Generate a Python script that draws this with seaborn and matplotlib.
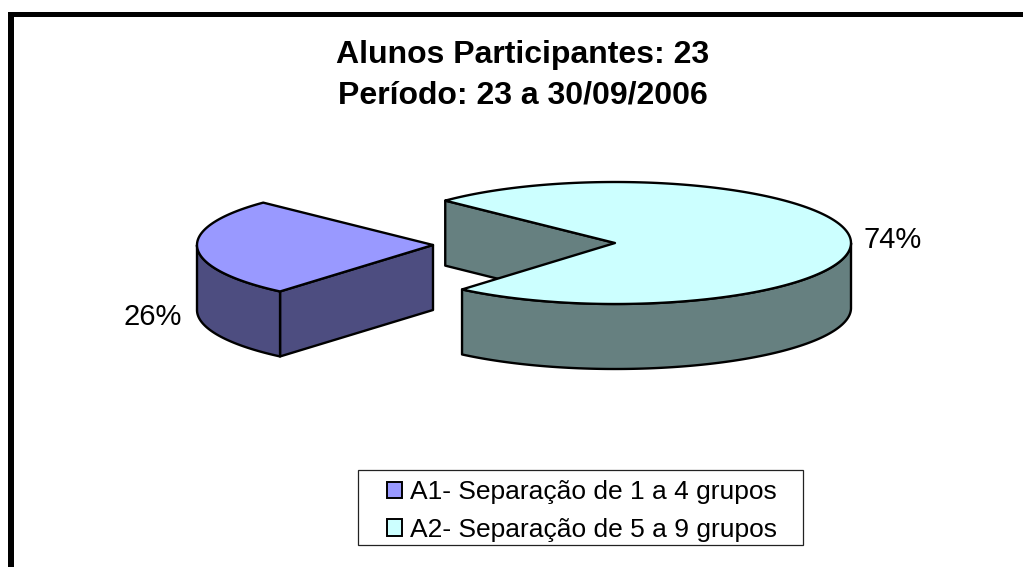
import numpy as np
import seaborn as sns
import matplotlib
matplotlib.use("Agg")
import matplotlib.pyplot as plt
from matplotlib.patches import Patch, Rectangle

title_lines = ["Alunos Participantes: 23", "Período: 23 a 30/09/2006"]
labels = ["A1- Separação de 1 a 4 grupos", "A2- Separação de 5 a 9 grupos"]
values = [26, 74]
top_colors = ["#9999FF", "#CCFFFF"]
wall_colors = ["#4D4D80", "#668080"]

START = 136.0
RX, RY, DEPTH = 236, 61, 65
LW = 1.7

sns.set_theme(style="white")
plt.rcParams["font.family"] = ["Liberation Sans", "DejaVu Sans"]


def arc(cx, cy, t0, t1, dy=0):
    t = np.radians(np.linspace(t0, t1, 200))
    return cx + RX * np.cos(t), cy - RY * np.sin(t) + dy


def face(ax, xs, ys, color):
    ax.fill(xs, ys, facecolor=color, edgecolor="black", lw=LW, joinstyle="round")


def extrude(ax, xs, ys, color):
    # a curve on the top surface, pushed down by the slice depth
    xs, ys = np.asarray(xs, float), np.asarray(ys, float)
    face(ax, np.r_[xs, xs[::-1]], np.r_[ys, ys[::-1] + DEPTH], color)


fig, ax = plt.subplots(figsize=(10.23, 5.67), dpi=100)
fig.subplots_adjust(0, 0, 1, 1)
ax.set_xlim(0, 1023)
ax.set_ylim(567, 0)
ax.axis("off")

# outer frame, open at right and bottom
ax.add_patch(Rectangle((8, 12), 5.5, 555, fc="black", ec="none"))
ax.add_patch(Rectangle((8, 12), 1015, 5.2, fc="black", ec="none"))

sweep = [v / sum(values) * 360 for v in values]

# A1 slice
cx, cy = 433, 245
t0, t1 = START, START + sweep[0]
ex, ey = arc(cx, cy, t1, t1)
extrude(ax, [ex[0], cx], [ey[0], cy], wall_colors[0])
x, y = arc(cx, cy, 180, t1)
extrude(ax, x, y, wall_colors[0])
x, y = arc(cx, cy, t0, t1)
face(ax, np.r_[cx, x], np.r_[cy, y], top_colors[0])

# A2 slice
cx, cy = 615, 243
t0, t1 = START + sweep[0], START + 360
ex, ey = arc(cx, cy, t1, t1)
extrude(ax, [ex[0], cx], [ey[0], cy], wall_colors[1])
x, y = arc(cx, cy, t0, 360)
extrude(ax, x, y, wall_colors[1])
x, y = arc(cx, cy, t0, t1)
face(ax, np.r_[cx, x], np.r_[cy, y], top_colors[1])

ax.text(523, 54.5, title_lines[0], ha="center", va="center", fontsize=23, fontweight="bold", color="black")
ax.text(523, 95, title_lines[1], ha="center", va="center", fontsize=23, fontweight="bold", color="black")
ax.text(153, 317, f"{values[0]}%", ha="center", va="center", fontsize=21, color="black")
ax.text(893, 240, f"{values[1]}%", ha="center", va="center", fontsize=21, color="black")

# legend box is wider than the legend's own padding allows, so draw it apart
ax.add_patch(Rectangle((357.5, 470), 445.5, 75, fc="white", ec="#222222", lw=0.9))
handles = [Patch(facecolor=c, edgecolor="black", lw=1.4) for c in top_colors]
leg = ax.legend(handles, labels, loc="center", bbox_to_anchor=(582, 511), bbox_transform=ax.transData,
                fontsize=19, frameon=False, handlelength=0.6, handleheight=0.6,
                handletextpad=0.3, labelspacing=0.5, borderpad=0, borderaxespad=0,
                labelcolor="black")

plt.savefig("out.png", dpi=100)
